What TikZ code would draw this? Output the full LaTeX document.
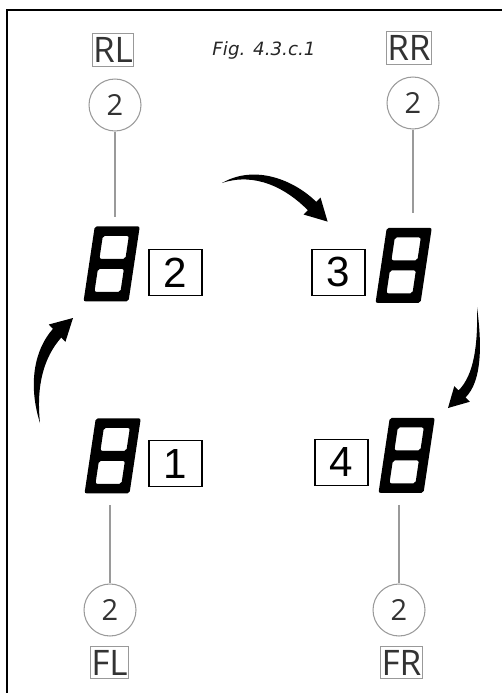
\documentclass[tikz,border=0pt]{standalone}
\usepackage{fontspec}
\usepackage{xcolor}
\usetikzlibrary{positioning}
\newfontfamily\labelfont{Open Sans}
\newfontfamily\boxfont{Liberation Sans}
\newfontfamily\figfont{DejaVu Sans}
\definecolor{wirecol}{HTML}{9A9A9A}
\definecolor{inkcol}{HTML}{333333}

\begin{document}
\begin{tikzpicture}[
    x=0.02cm, y=-0.02cm,
    segdigit/.style={minimum width=1.125cm, minimum height=1.5cm, inner sep=0pt},
    numbox/.style={draw=black, line width=0.6pt, minimum width=1.06cm, minimum height=0.92cm, inner sep=0pt, font=\boxfont\fontsize{24}{24}\selectfont},
    valcircle/.style={circle, draw=wirecol, line width=0.6pt, minimum size=1.04cm, inner sep=0pt, text=inkcol, font=\labelfont\fontsize{16.5}{16.5}\selectfont},
    poslabel/.style={draw=gray!80, line width=0.6pt, inner xsep=0.5pt, inner ysep=2.2pt, text=inkcol, font=\labelfont\fontsize{20}{20}\selectfont},
    wire/.style={draw=wirecol, line width=0.6pt},
    brush/.style={fill=black},
    frame/.style={line width=1.4pt}
]
\useasboundingbox (0,0) rectangle (502,693);
\draw[frame] (7,693) -- (7,10) -- (502,10);

\node[font=\figfont\itshape\fontsize{10.4}{12}\selectfont, text=black!85, anchor=base] (cap) at (264,55) {Fig. 4.3.c.1};

\node[poslabel] (rl) at (113,50) {RL};
\node[valcircle] (rlc) at (115,105) {2};
\node[segdigit] (rld) at (112,263.5) {};
\node[numbox, right=0.16cm of rld.south east, anchor=south west, yshift=0.1cm] (rlb) {2};

\node[poslabel] (rr) at (409,48) {RR};
\node[valcircle] (rrc) at (413,103) {2};
\node[segdigit] (rrd) at (404,265) {};
\node[numbox, left=0.2cm of rrd.south west, anchor=south east, yshift=0.14cm] (rrb) {3};

\node[segdigit] (fld) at (113,455.5) {};
\node[numbox, right=0.14cm of fld.south east, anchor=south west, yshift=0.12cm] (flb) {1};
\node[valcircle] (flc) at (110,610) {2};
\node[poslabel] (fl) at (109.5,662.5) {FL};

\node[segdigit] (frd) at (407,455) {};
\node[numbox, left=0.2cm of frd.south west, anchor=south east, yshift=0.14cm] (frb) {4};
\node[valcircle] (frc) at (399,610) {2};
\node[poslabel] (fr) at (401.5,662.5) {FR};

\foreach \d in {rld,rrd,fld,frd}
  \fill[black, even odd rule, rounded corners=0.04cm, shift={(\d.south west)}, xslant=0.15]
    (0cm,0cm) rectangle (0.9cm,1.5cm)
    (0.19cm,0.19cm) rectangle (0.71cm,0.65cm)
    (0.19cm,0.85cm) rectangle (0.71cm,1.31cm);

\draw[wire, shorten >=0.18cm] (rlc) -- (rlc |- rld.north);
\draw[wire, shorten >=0.28cm] (rrc) -- (rrc |- rrd.north);
\draw[wire, shorten <=0.24cm] (flc |- fld.south) -- (flc);
\draw[wire, shorten <=0.24cm] (frc |- frd.south) -- (frc);

\fill[brush] (222,183) .. controls (255,164) and (294,180) .. (316.2,201.8) -- (320.5,197.5) -- (327.6,221.6) -- (303.5,214.5) -- (307.8,210.2) .. controls (286,188) and (255,172) .. cycle;
\fill[brush] (477,307) .. controls (482,345) and (482,381) .. (465.6,397.4) -- (469.9,401.7) -- (448,408) -- (454.3,386.1) -- (458.6,390.4) .. controls (474,375) and (478,345) .. cycle;
\fill[brush] (40,423) .. controls (36,385) and (44,357) .. (61.3,337.5) -- (65.4,341.9) -- (73,318) -- (48.8,324.5) -- (52.9,328.9) .. controls (34,350) and (28,385) .. cycle;
\end{tikzpicture}
\end{document}
